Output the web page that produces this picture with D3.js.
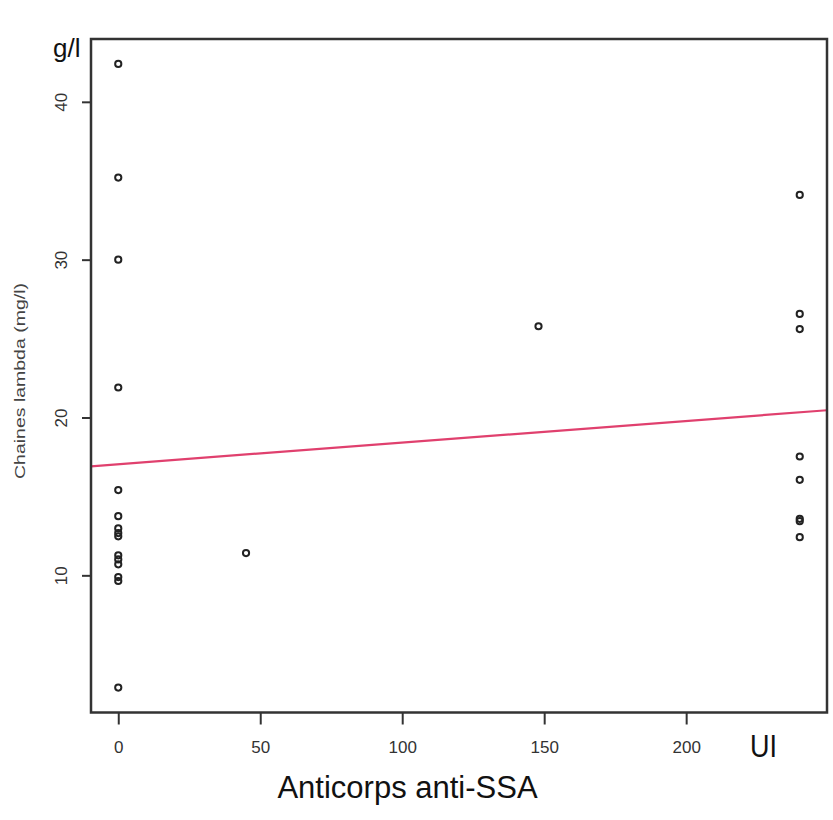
<!DOCTYPE html>
<html>
<head>
<meta charset="utf-8">
<script src="https://cdn.jsdelivr.net/npm/d3@7"></script>
<style>
  html, body { margin: 0; padding: 0; background: #fff; }
  svg { display: block; font-family: "Liberation Sans", Arial, sans-serif; }
</style>
</head>
<body>
<svg id="chart" width="833" height="820"></svg>
<script>
// ---- data ----
const xValues = [0, 0, 0, 0, 0, 0, 0, 0, 0, 0, 0, 0, 0, 0, 0,
                 45, 148,
                 240, 240, 240, 240, 240, 240, 240, 240];
const yValues = [42.4, 35.2, 30.0, 21.9, 15.4, 13.75, 12.97, 12.68, 12.47, 11.27, 11.01, 10.7, 9.89, 9.64, 2.89,
                 11.41, 25.78,
                 34.1, 26.56, 25.6, 17.53, 16.05, 13.58, 13.43, 12.42];
const xTicks = [0, 50, 100, 150, 200];
const yTicks = [10, 20, 30, 40];
const fitIntercept = 17.04;
const fitSlope = 0.0137;
const xTitle = "Anticorps anti-SSA";
const yTitle = "Chaines lambda (mg/l)";
const yUnit = "g/l";
const xUnit = "UI";

// ---- layout ----
const svg = d3.select("#chart");
const L = 91, R = 827, T = 39, B = 712.5;

function pad(ext) { const d = (ext[1] - ext[0]) * 0.04; return [ext[0] - d, ext[1] + d]; }
const x = d3.scaleLinear().domain(pad(d3.extent(xValues))).range([L, R]);
const y = d3.scaleLinear().domain(pad(d3.extent(yValues))).range([B, T]);

svg.append("rect").attr("width", 833).attr("height", 820).attr("fill", "#fff");

svg.append("defs").append("clipPath").attr("id", "plotclip")
  .append("rect").attr("x", L).attr("y", T).attr("width", R - L).attr("height", B - T);

// regression line
const xd = x.domain();
svg.append("line")
  .attr("clip-path", "url(#plotclip)")
  .attr("x1", x(xd[0])).attr("y1", y(fitIntercept + fitSlope * xd[0]))
  .attr("x2", x(xd[1])).attr("y2", y(fitIntercept + fitSlope * xd[1]))
  .attr("stroke", "#e0406e").attr("stroke-width", 2.2);

// points
svg.append("g").selectAll("circle").data(xValues.map((v, i) => [v, yValues[i]]))
  .join("circle")
  .attr("cx", d => x(d[0])).attr("cy", d => y(d[1]))
  .attr("r", 3.1).attr("fill", "none").attr("stroke", "#222").attr("stroke-width", 2);

// box
svg.append("rect").attr("x", L).attr("y", T).attr("width", R - L).attr("height", B - T)
  .attr("fill", "none").attr("stroke", "#333").attr("stroke-width", 2.5);

// x axis
const xAxis = d3.axisBottom(x).tickValues(xTicks).tickSize(12).tickFormat(d3.format("d"));
const gx = svg.append("g").attr("transform", `translate(0,${B})`).call(xAxis);
gx.attr("font-size", null).attr("font-family", null);
gx.select(".domain").remove();
gx.selectAll(".tick line").attr("stroke", "#333").attr("stroke-width", 2);
gx.selectAll(".tick text").style("font-size", "17px").attr("fill", "#333")
  .style("font-family", "'Liberation Sans', Arial, sans-serif").attr("dy", null).attr("y", 40);

// y axis
const yAxis = d3.axisLeft(y).tickValues(yTicks).tickSize(9).tickFormat(d3.format("d"));
const gy = svg.append("g").attr("transform", `translate(${L},0)`).call(yAxis);
gy.attr("font-size", null).attr("font-family", null);
gy.select(".domain").remove();
gy.selectAll(".tick line").attr("stroke", "#333").attr("stroke-width", 2);
gy.selectAll(".tick text").style("font-size", "17px").attr("fill", "#333")
  .style("font-family", "'Liberation Sans', Arial, sans-serif")
  .attr("x", null).attr("dy", null).attr("text-anchor", "middle")
  .attr("transform", "translate(-24,0) rotate(-90)");

// titles
svg.append("text").attr("x", 407.5).attr("y", 798).attr("text-anchor", "middle")
  .attr("font-size", 31).attr("fill", "#111").text(xTitle);
svg.append("text").attr("x", 750).attr("y", 757).attr("font-size", 31).attr("fill", "#111")
  .attr("textLength", 27).attr("lengthAdjust", "spacingAndGlyphs").text(xUnit);
svg.append("text").attr("x", 53).attr("y", 57).attr("font-size", 26).attr("fill", "#111").text(yUnit);
svg.append("text").attr("transform", "translate(25,381) rotate(-90)").attr("text-anchor", "middle")
  .attr("font-size", 14).attr("fill", "#444")
  .attr("textLength", 196).attr("lengthAdjust", "spacingAndGlyphs").text(yTitle);
</script>
</body>
</html>
